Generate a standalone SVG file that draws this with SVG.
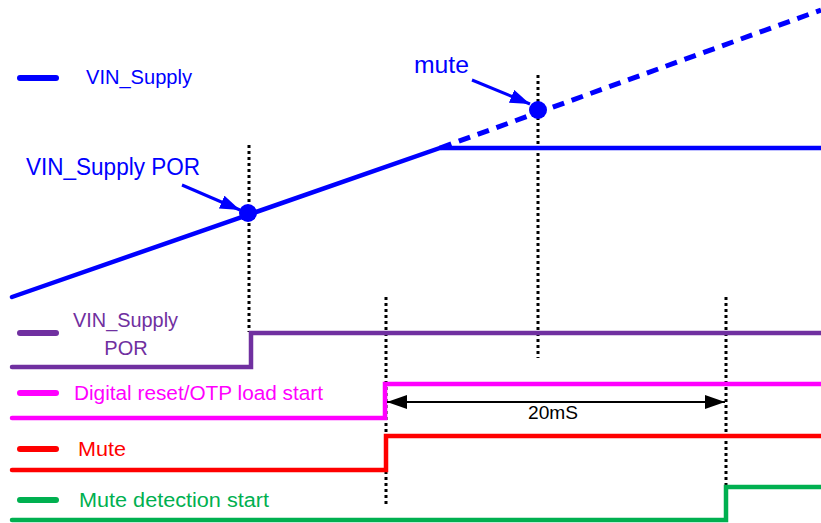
<svg xmlns="http://www.w3.org/2000/svg" width="821" height="523" viewBox="0 0 821 523">
<style>
text{font-family:"Liberation Sans",Arial,sans-serif;}
.vd{stroke:#000;stroke-width:3;stroke-dasharray:3,3;fill:none}
.sig{fill:none;stroke-width:4.5;stroke-linecap:round;stroke-linejoin:miter}
.leg{stroke-width:6;stroke-linecap:round}
</style>
<defs>
<marker id="ab" viewBox="0 0 20 14" refX="20" refY="7" markerWidth="20" markerHeight="14" markerUnits="userSpaceOnUse" orient="auto"><path d="M0,0L20,7L0,14z" fill="#0000ff"/></marker>
<marker id="ak" viewBox="0 0 20 14" refX="20" refY="7" markerWidth="20" markerHeight="14" markerUnits="userSpaceOnUse" orient="auto-start-reverse"><path d="M0,0L20,7L0,14z" fill="#000"/></marker>
</defs>
<g id="guides">
<line class="vd" x1="249" y1="145" x2="249" y2="332"/>
<line class="vd" x1="386" y1="297" x2="386" y2="505"/>
<line class="vd" x1="538" y1="75" x2="538" y2="358"/>
<line class="vd" x1="726" y1="297" x2="726" y2="505"/>
</g>
<g id="vin_supply">
<line class="leg" x1="20" y1="78" x2="56" y2="78" stroke="#0000ff"/>
<text x="86" y="84" font-size="20" fill="#0000ff" textLength="106" lengthAdjust="spacingAndGlyphs">VIN_Supply</text>
<polyline class="sig" stroke="#0000ff" stroke-width="5" points="12,297 440,148 821,148"/>
<line x1="440" y1="148" x2="821" y2="10" stroke="#0000ff" stroke-width="5" stroke-dasharray="12,8"/>
<circle cx="248" cy="213" r="9" fill="#0000ff"/>
<circle cx="538" cy="110" r="9" fill="#0000ff"/>
</g>
<g id="por_label">
<text x="26" y="175" font-size="23" fill="#0000ff" textLength="174" lengthAdjust="spacingAndGlyphs">VIN_Supply POR</text>
</g>
<g id="mute_label">
<text x="414" y="73" font-size="23" fill="#0000ff" textLength="55" lengthAdjust="spacingAndGlyphs">mute</text>
</g>
<g id="vin_por">
<line class="leg" x1="20" y1="333" x2="56" y2="333" stroke="#7030a0"/>
<text x="73" y="327" font-size="20" fill="#7030a0" textLength="105" lengthAdjust="spacingAndGlyphs">VIN_Supply</text>
<text x="126" y="355" font-size="20" fill="#7030a0" text-anchor="middle">POR</text>
<polyline class="sig" stroke="#7030a0" points="12,367 251,367 251,333 821,333"/>
</g>
<g id="digital_reset">
<line class="leg" x1="20" y1="393" x2="56" y2="393" stroke="#ff00ff"/>
<text x="74" y="400" font-size="20" fill="#ff00ff" textLength="249" lengthAdjust="spacingAndGlyphs">Digital reset/OTP load start</text>
<polyline class="sig" stroke="#ff00ff" points="12,418 385,418 385,384 821,384"/>
</g>
<g id="mute">
<line class="leg" x1="20" y1="449" x2="56" y2="449" stroke="#ff0000"/>
<text x="78" y="456" font-size="20" fill="#ff0000" textLength="48" lengthAdjust="spacingAndGlyphs">Mute</text>
<polyline class="sig" stroke="#ff0000" points="12,470 386,470 386,436 821,436"/>
</g>
<g id="mute_detect">
<line class="leg" x1="20" y1="500" x2="56" y2="500" stroke="#00b050"/>
<text x="79" y="507" font-size="20" fill="#00b050" textLength="190" lengthAdjust="spacingAndGlyphs">Mute detection start</text>
<polyline class="sig" stroke="#00b050" points="12,520 726,520 726,487 821,487"/>
</g>
<g id="connectors">
<line x1="182" y1="185" x2="240" y2="210" stroke="#0000ff" stroke-width="3" marker-end="url(#ab)"/>
<line x1="472" y1="80" x2="530" y2="104" stroke="#0000ff" stroke-width="3" marker-end="url(#ab)"/>
<line x1="387" y1="402" x2="725" y2="402" stroke="#000" stroke-width="2" marker-start="url(#ak)" marker-end="url(#ak)"/>
<text x="528" y="419" font-size="19" fill="#000" textLength="50" lengthAdjust="spacingAndGlyphs">20mS</text>
</g>
</svg>
